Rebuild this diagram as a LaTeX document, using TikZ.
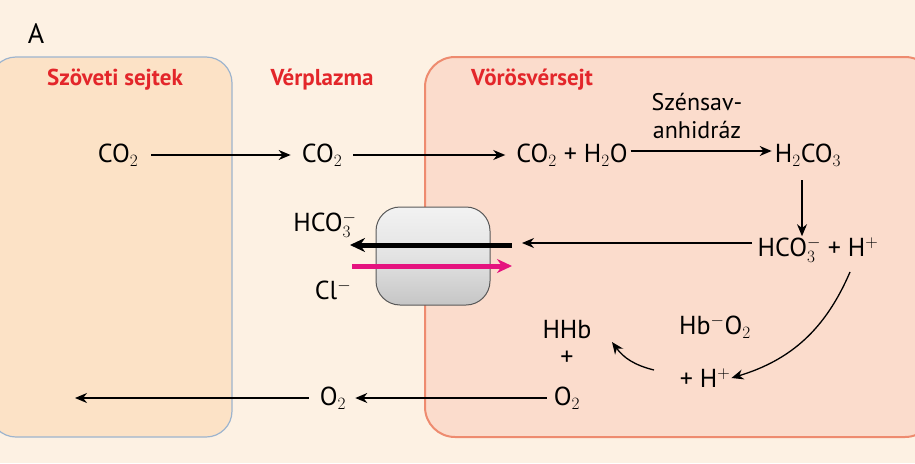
\documentclass[tikz,border=0pt]{standalone}
\usepackage{fontspec}
\setmainfont{PT Sans}
\usetikzlibrary{arrows.meta}
\definecolor{bg}{HTML}{FDF1E3}
\definecolor{tis}{HTML}{FCE2C6}
\definecolor{tisb}{HTML}{9DB4CE}
\definecolor{cell}{HTML}{FBDCCC}
\definecolor{cellb}{HTML}{EE8B6F}
\definecolor{lab}{HTML}{E3262A}
\definecolor{mag}{HTML}{E5137F}
\begin{document}
\begin{tikzpicture}[x=1pt,y=-1pt,
  t/.style={font=\fontsize{26}{30}\selectfont,inner sep=1pt},
  hd/.style={font=\fontsize{23}{26}\selectfont\bfseries,text=lab},
  ar/.style={-{Stealth[length=12pt,width=10pt]},line width=1.3pt}]
\fill[bg] (0,0) rectangle (915,463);
\useasboundingbox (0,0) rectangle (915,463);
\node[font=\fontsize{28}{30}\selectfont] (A) at (36,34) {A};
\draw[tisb,fill=tis,line width=1.2pt,rounded corners=26] (-10,57) rectangle (232,437);
\draw[cellb,fill=cell,line width=2pt,rounded corners=30] (425,57) rectangle (935,437);
\node[hd] (h1) at (115,80) {Szöveti sejtek};
\node[hd] (h2) at (322,80) {Vérplazma};
\node[hd] (h3) at (532,80) {Vörösvérsejt};
\node[t] (c1) at (118,155) {CO$_2$};
\node[t] (c2) at (322,155) {CO$_2$};
\node[t] (c3) at (572,155) {CO$_2$ + H$_2$O};
\node[t] (c4) at (808,155) {H$_2$CO$_3$};
\node[t,align=center,font=\fontsize{24}{28}\selectfont] (enz) at (697,116) {Szénsav-\\anhidráz};
\draw[ar,shorten <=12pt,shorten >=10pt] (c1) -- (c2);
\draw[ar,shorten <=10pt,shorten >=10pt] (c2) -- (c3);
\draw[ar,shorten <=2pt,shorten >=2pt] (c3.east) ++(0,-4) coordinate (c3e) -- (c4.west |- c3e);
\node[t] (b1) at (818,250) {HCO$_3^-$ + H$^+$};
\draw[ar] (802,180) coordinate (ds) -- (ds |- b1.north);
\node[draw=gray!70!black,line width=1pt,rounded corners=24,minimum width=114pt,minimum height=98pt,
  top color=gray!10,bottom color=gray!45,middle color=gray!22] (tr) at (433,256) {};
\coordinate (ts) at (522,243);
\draw[ar] (752,243) coordinate (bs) -- (ts);
\coordinate (ka) at (512,245);\coordinate (kb) at (350,245);
\draw[-{Stealth[length=15pt,width=14pt]},line width=5pt] (ka) -- (kb);
\coordinate (ma) at (352,266);\coordinate (mb) at (512,266);
\draw[mag,-{Stealth[length=15pt,width=14pt]},line width=5pt] (ma) -- (mb);
\node[t] (hc) at (325,225) {HCO$_3^-$};
\node[t] (cl) at (333,290) {Cl$^-$};
\node[t] (hb1) at (715,327) {Hb$^-$O$_2$};
\node[t] (hb2) at (705,378) {+ H$^+$};
\coordinate (cs) at (850,272);
\draw[ar] (cs) to[bend left=25] (hb2.east);
\node[t] (hh) at (567,330) {HHb};
\node[t] (pl) at (567,358) {+};
\node[t] (o2a) at (567,398) {O$_2$};
\coordinate (ks) at (654,370);\coordinate (ke) at (612,342);
\draw[ar] (ks) to[bend left=20] (ke);
\node[t] (o2b) at (333,398) {O$_2$};
\coordinate (end) at (75,398);
\draw[ar,shorten <=6pt,shorten >=8pt] (o2a) -- (o2b);
\draw[ar,shorten <=10pt] (o2b) -- (end);
\end{tikzpicture}
\end{document}
